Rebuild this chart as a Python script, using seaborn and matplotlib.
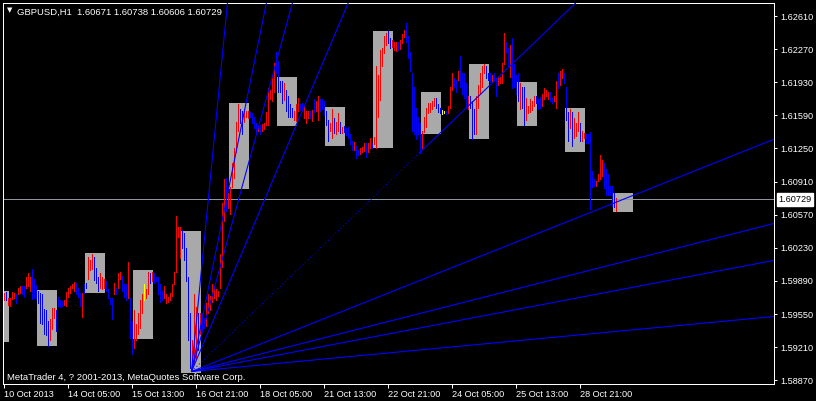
import matplotlib
matplotlib.use("Agg")
import matplotlib.pyplot as plt
import matplotlib.transforms as mtransforms
import numpy as np
import pandas as pd
import seaborn as sns

# hourly bars, GBPUSD H1 (high / low per bar)
highs = [
    1.5977, 1.5978, 1.5971, 1.5972, 1.5978, 1.5977, 1.5976, 1.5982, 1.5984, 1.5984,
    1.5984, 1.5993, 1.5997, 1.5993, 1.6001, 1.5991, 1.5985, 1.5979, 1.5977, 1.5976,
    1.5960, 1.5959, 1.5948, 1.5950, 1.5961, 1.5961, 1.5959, 1.5973, 1.5969, 1.5968,
    1.5969, 1.5978, 1.5982, 1.5984, 1.5986, 1.5988, 1.5987, 1.5982, 1.5977, 1.5977,
    1.5986, 1.5987, 1.6014, 1.6010, 1.6017, 1.6014, 1.6002, 1.5993, 1.5997, 1.5993,
    1.5991, 1.5989, 1.5981, 1.5972, 1.5971, 1.5987, 1.5982, 1.5997, 1.5998, 1.5994,
    1.5986, 1.5986, 1.6008, 1.5972, 1.5948, 1.5959, 1.5945, 1.5956, 1.5969, 1.5976,
    1.5986, 1.5981, 1.5998, 1.5997, 1.5998, 1.5997, 1.5993, 1.5993, 1.5986, 1.5979,
    1.5984, 1.5976, 1.5973, 1.5977, 1.5986, 1.5998, 1.6056, 1.6044, 1.6044, 1.6041,
    1.6038, 1.6023, 1.5993, 1.5956, 1.5928, 1.5976, 1.5962, 1.5956, 1.5956, 1.5956,
    1.5951, 1.5966, 1.5976, 1.5974, 1.5986, 1.5984, 1.5981, 1.5979, 1.6017, 1.6069,
    1.6094, 1.6095, 1.6079, 1.6085, 1.6110, 1.6126, 1.6152, 1.6171, 1.6166, 1.6164,
    1.6164, 1.6164, 1.6164, 1.6162, 1.6161, 1.6157, 1.6151, 1.6148, 1.6149, 1.6150,
    1.6151, 1.6162, 1.6187, 1.6185, 1.6200, 1.6213, 1.6224, 1.6215, 1.6194, 1.6194,
    1.6192, 1.6185, 1.6179, 1.6171, 1.6167, 1.6164, 1.6171, 1.6177, 1.6171, 1.6172,
    1.6169, 1.6164, 1.6164, 1.6164, 1.6165, 1.6176, 1.6174, 1.6179, 1.6176, 1.6176,
    1.6174, 1.6164, 1.6154, 1.6151, 1.6166, 1.6156, 1.6152, 1.6161, 1.6152, 1.6147,
    1.6148, 1.6146, 1.6147, 1.6140, 1.6133, 1.6132, 1.6128, 1.6123, 1.6126, 1.6127,
    1.6131, 1.6131, 1.6131, 1.6136, 1.6131, 1.6137, 1.6210, 1.6200, 1.6226, 1.6228,
    1.6241, 1.6244, 1.6246, 1.6238, 1.6236, 1.6234, 1.6234, 1.6234, 1.6236, 1.6243,
    1.6247, 1.6254, 1.6241, 1.6224, 1.6202, 1.6188, 1.6167, 1.6157, 1.6151, 1.6143,
    1.6157, 1.6167, 1.6172, 1.6172, 1.6174, 1.6177, 1.6177, 1.6171, 1.6167, 1.6165,
    1.6164, 1.6164, 1.6169, 1.6188, 1.6202, 1.6197, 1.6195, 1.6205, 1.6220, 1.6203,
    1.6202, 1.6192, 1.6179, 1.6179, 1.6174, 1.6166, 1.6179, 1.6190, 1.6203, 1.6210,
    1.6212, 1.6210, 1.6203, 1.6202, 1.6200, 1.6202, 1.6197, 1.6198, 1.6198, 1.6213,
    1.6244, 1.6234, 1.6228, 1.6231, 1.6238, 1.6212, 1.6200, 1.6203, 1.6192, 1.6188,
    1.6188, 1.6177, 1.6169, 1.6176, 1.6174, 1.6179, 1.6179, 1.6176, 1.6178, 1.6181,
    1.6187, 1.6185, 1.6183, 1.6183, 1.6177, 1.6179, 1.6194, 1.6203, 1.6205, 1.6207,
    1.6203, 1.6188, 1.6162, 1.6166, 1.6162, 1.6156, 1.6151, 1.6162, 1.6151, 1.6143,
    1.6141, 1.6140, 1.6140, 1.6142, 1.6102, 1.6094, 1.6092, 1.6099, 1.6118, 1.6113,
    1.6110, 1.6104, 1.6099, 1.6087, 1.6087, 1.6079, 1.6074,
]
lows = [
    1.5969, 1.5969, 1.5964, 1.5963, 1.5970, 1.5971, 1.5966, 1.5976, 1.5977, 1.5976,
    1.5973, 1.5982, 1.5984, 1.5979, 1.5970, 1.5972, 1.5970, 1.5966, 1.5946, 1.5945,
    1.5935, 1.5933, 1.5922, 1.5928, 1.5940, 1.5951, 1.5938, 1.5963, 1.5962, 1.5963,
    1.5964, 1.5963, 1.5973, 1.5977, 1.5982, 1.5979, 1.5976, 1.5973, 1.5963, 1.5952,
    1.5977, 1.5982, 1.5991, 1.6000, 1.6001, 1.5990, 1.5987, 1.5979, 1.5982, 1.5981,
    1.5982, 1.5979, 1.5971, 1.5965, 1.5950, 1.5976, 1.5976, 1.5982, 1.5991, 1.5979,
    1.5973, 1.5969, 1.5971, 1.5930, 1.5914, 1.5920, 1.5928, 1.5935, 1.5941, 1.5956,
    1.5969, 1.5972, 1.5976, 1.5987, 1.5989, 1.5987, 1.5989, 1.5976, 1.5967, 1.5969,
    1.5971, 1.5966, 1.5967, 1.5969, 1.5974, 1.5986, 1.5998, 1.6034, 1.6013, 1.6023,
    1.6010, 1.5989, 1.5928, 1.5900, 1.5897, 1.5904, 1.5910, 1.5918, 1.5935, 1.5940,
    1.5941, 1.5943, 1.5956, 1.5959, 1.5967, 1.5971, 1.5969, 1.5974, 1.5982, 1.6003,
    1.6051, 1.6061, 1.6064, 1.6058, 1.6085, 1.6095, 1.6121, 1.6143, 1.6151, 1.6140,
    1.6152, 1.6157, 1.6156, 1.6157, 1.6151, 1.6146, 1.6140, 1.6143, 1.6140, 1.6143,
    1.6145, 1.6149, 1.6149, 1.6176, 1.6174, 1.6183, 1.6203, 1.6183, 1.6183, 1.6172,
    1.6175, 1.6164, 1.6157, 1.6157, 1.6157, 1.6154, 1.6153, 1.6164, 1.6165, 1.6164,
    1.6156, 1.6151, 1.6156, 1.6156, 1.6153, 1.6162, 1.6164, 1.6154, 1.6164, 1.6166,
    1.6159, 1.6149, 1.6133, 1.6143, 1.6136, 1.6141, 1.6140, 1.6143, 1.6141, 1.6141,
    1.6142, 1.6139, 1.6136, 1.6130, 1.6123, 1.6123, 1.6115, 1.6118, 1.6119, 1.6121,
    1.6122, 1.6116, 1.6121, 1.6126, 1.6126, 1.6130, 1.6125, 1.6157, 1.6175, 1.6210,
    1.6223, 1.6231, 1.6233, 1.6228, 1.6229, 1.6226, 1.6225, 1.6226, 1.6227, 1.6233,
    1.6239, 1.6234, 1.6218, 1.6205, 1.6143, 1.6140, 1.6135, 1.6140, 1.6120, 1.6126,
    1.6142, 1.6147, 1.6161, 1.6162, 1.6166, 1.6169, 1.6167, 1.6162, 1.6161, 1.6160,
    1.6161, 1.6160, 1.6161, 1.6167, 1.6185, 1.6188, 1.6183, 1.6195, 1.6188, 1.6181,
    1.6177, 1.6167, 1.6166, 1.6167, 1.6135, 1.6140, 1.6140, 1.6167, 1.6181, 1.6188,
    1.6202, 1.6197, 1.6195, 1.6193, 1.6193, 1.6195, 1.6179, 1.6190, 1.6192, 1.6192,
    1.6212, 1.6224, 1.6210, 1.6198, 1.6187, 1.6188, 1.6181, 1.6174, 1.6166, 1.6167,
    1.6149, 1.6154, 1.6161, 1.6162, 1.6165, 1.6169, 1.6172, 1.6166, 1.6167, 1.6169,
    1.6176, 1.6179, 1.6176, 1.6174, 1.6172, 1.6174, 1.6167, 1.6187, 1.6190, 1.6197,
    1.6192, 1.6154, 1.6133, 1.6146, 1.6128, 1.6136, 1.6138, 1.6143, 1.6133, 1.6133,
    1.6136, 1.6131, 1.6131, 1.6063, 1.6085, 1.6087, 1.6087, 1.6092, 1.6094, 1.6097,
    1.6084, 1.6077, 1.6077, 1.6077, 1.6066, 1.6065, 1.6061,
]
# r = up bar, b = down bar, y = doji
bar_kinds = (
    "rbrrrrbrrb" "brrrbbbbbb" "bbbrrrbbbb" "rrrrrrbbbr" "bbrrrbbbrr"
    "rbbbbrbrrb" "bbrbbrrrrr" "yrrbrbbbbb" "rrrrrrrrrb" "bbbbrrrbrb"
    "brrrrrrrrr" "rbrrrrrrbb" "rrrbbbbrbr" "rrrrrrbbbb" "rbbbbrrrbb"
    "rrrbrbrrbb" "bbbrrbrrbr" "bbbbbrbbrr" "rbrrbrrrrr" "rrbbrrrbrr"
    "rbbbbbbbbr" "rrrrrrbbby" "ybrrrbbrbb" "bbrbbbrrrr" "rbbbrbbrrr"
    "rbbrbbbbrb" "brrrrrbbbr" "rrrbbrrbrr" "bbbrbrrrbr" "rbbbbbrrrr"
    "bbbbbbr"
)

# daily session boxes (first bar of session, high, low)
box_start = [-7, 17, 41, 65, 89, 113, 137, 161, 185, 209, 233, 257, 281, 305]
box_high = [1.5979, 1.5980, 1.6018, 1.6000, 1.6040, 1.6172, 1.6198,
            1.6168, 1.6246, 1.6183, 1.6212, 1.6193, 1.6167, 1.6079]
box_low = [1.5926, 1.5922, 1.5977, 1.5929, 1.5894, 1.6083, 1.6148,
           1.6128, 1.6125, 1.6140, 1.6135, 1.6148, 1.6121, 1.6060]

# gann fan: anchor and slope of each ray (price per bar)
fan_bar = 94
fan_price = 1.5896
fan_second_bar = 208
fan_slopes = [0.002105, 0.001011, 0.000750, 0.000483, 0.000197,
              0.0000819, 0.0000522, 0.0000392, 0.0000194]

current_price = 1.60729
quote = "GBPUSD,H1  1.60671 1.60738 1.60606 1.60729"
copyright_text = "MetaTrader 4, ? 2001-2013, MetaQuotes Software Corp."

xtick_bars = [0, 32, 64, 96, 128, 160, 192, 224, 256, 288]
xtick_labels = ["10 Oct 2013", "14 Oct 05:00", "15 Oct 13:00", "16 Oct 21:00",
                "18 Oct 05:00", "21 Oct 13:00", "22 Oct 21:00", "24 Oct 05:00",
                "25 Oct 13:00", "28 Oct 21:00"]
ytick_prices = [1.62610, 1.62270, 1.61930, 1.61590, 1.61250, 1.60910,
                1.60570, 1.60230, 1.59890, 1.59550, 1.59210, 1.58870]


sns.set_theme(style="dark", rc={"axes.facecolor": "black",
                                "figure.facecolor": "black"})
plt.rcParams["font.family"] = ["Liberation Sans", "DejaVu Sans"]

fig = plt.figure(figsize=(8.16, 4.01), dpi=100)
ax = fig.add_axes([2.5 / 816, 17.5 / 401, 771 / 816, 381 / 401])
ax.set_facecolor("black")

# session boxes
ax.bar(np.array(box_start) - 0.25,
       np.array(box_high) - np.array(box_low),
       bottom=box_low, width=10, align="edge",
       color="#A9A9A9", linewidth=0, zorder=1)

# bid line
ax.axhline(current_price, color="#8C96A0", lw=0.72, zorder=1.5)

# bars
bars = pd.DataFrame({"bar": np.arange(len(highs)), "high": highs,
                     "low": lows, "kind": list(bar_kinds)})
palette = {"r": "#FF0000", "b": "#0000FF", "y": "#FFFF00"}
ax.vlines(bars["bar"], bars["low"], bars["high"],
          colors=bars["kind"].map(palette), linewidth=0.72,
          antialiased=False, zorder=2)

# gann fan rays
rows = []
for k, s in enumerate(fan_slopes):
    start = fan_second_bar if k == 4 else fan_bar
    for b in (start, 420):
        rows.append({"ray": k, "bar": b, "price": fan_price + s * (b - fan_bar)})
fan = pd.DataFrame(rows)
sns.lineplot(data=fan, x="bar", y="price", units="ray", estimator=None,
             color="#0000FF", lw=0.8, legend=False, ax=ax, zorder=3)
# 1x1 ray between the two anchors is dotted
ax.plot([fan_bar, fan_second_bar],
        [fan_price, fan_price + fan_slopes[4] * (fan_second_bar - fan_bar)],
        color="#0000FF", lw=0.72, ls=(0, (1, 2.5)), zorder=3)

ax.set_xlim(-0.5, 385)
ax.set_ylim(1.58837, 1.62749)
ax.set_xlabel("")
ax.set_ylabel("")

for sp in ax.spines.values():
    sp.set_visible(True)
    sp.set_color("white")
    sp.set_linewidth(0.72)

ax.yaxis.tick_right()
ax.set_yticks(ytick_prices)
ax.set_yticklabels([f"{p:.5f}" for p in ytick_prices])
ax.set_xticks(xtick_bars)
ax.set_xticklabels(xtick_labels, ha="left")
ax.tick_params(axis="y", right=True, left=False, colors="white", length=2.5,
               width=0.72, pad=2.5, labelsize=6.6, direction="out")
ax.tick_params(axis="x", bottom=True, colors="white", length=3,
               width=0.72, pad=1.5, labelsize=6.6, direction="out")
ax.grid(False)

# current price tag
trans = mtransforms.blended_transform_factory(ax.transAxes, ax.transData)
ax.annotate(f"{current_price:.5f}", xy=(1, current_price), xycoords=trans,
            xytext=(5, 0), textcoords="offset pixels", ha="left", va="center",
            fontsize=6.6, color="black", annotation_clip=False,
            bbox=dict(boxstyle="square,pad=0.2", fc="white", ec="white"))

fig.text(7 / 816, (401 - 10.5) / 401, "\u25bc", color="white", fontsize=5,
         family="DejaVu Sans", va="center", ha="left")
fig.text(17 / 816, (401 - 14.5) / 401, quote, color="white", fontsize=6.8,
         va="baseline", ha="left")
fig.text(7 / 816, (401 - 379.5) / 401, copyright_text, color="white",
         fontsize=6.8, va="baseline", ha="left")

fig.savefig("out.png", dpi=100, facecolor="black")
